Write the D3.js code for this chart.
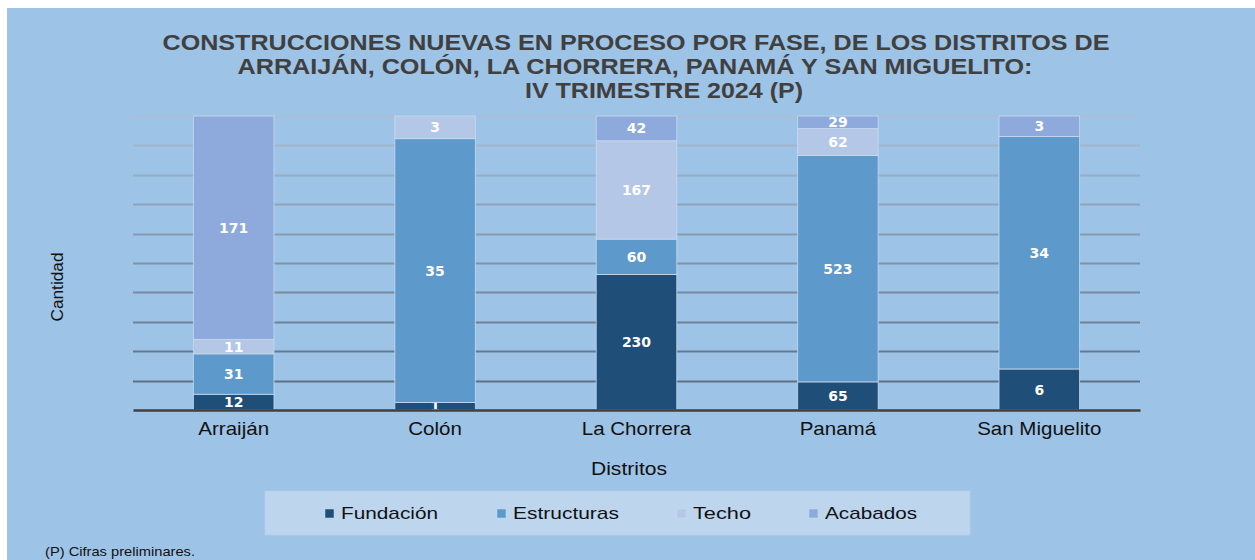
<!DOCTYPE html>
<html>
<head>
<meta charset="utf-8">
<script src="https://cdn.jsdelivr.net/npm/d3@7"></script>
<style>
  html, body { margin: 0; padding: 0; background: #ffffff; }
  svg { display: block; }
</style>
</head>
<body>
<div class="chart"></div>
<script>
// districts and phases
const districts = ["Arraiján", "Colón", "La Chorrera", "Panamá", "San Miguelito"];
const phases = ["Fundación", "Estructuras", "Techo", "Acabados"];

// values per phase, one per district (0 = no segment)
const fundacion = [12, 1, 230, 65, 6];
const estructuras = [31, 35, 60, 523, 34];
const techo = [11, 3, 167, 62, 0];
const acabados = [171, 0, 42, 29, 3];

const titleLines = [
  "CONSTRUCCIONES NUEVAS EN PROCESO POR FASE, DE LOS DISTRITOS DE",
  "ARRAIJÁN, COLÓN, LA CHORRERA, PANAMÁ Y SAN MIGUELITO:",
  "IV TRIMESTRE 2024 (P)",
];

const data = districts.map((d, i) => ({
  district: d,
  "Fundación": fundacion[i],
  "Estructuras": estructuras[i],
  "Techo": techo[i],
  "Acabados": acabados[i],
}));

const W = 1255, H = 560;
const margin = { top: 116, right: 115, bottom: 150, left: 133 },
  width = W - margin.left - margin.right,
  height = H - margin.top - margin.bottom;

const svg = d3.select(".chart").append("svg").attr("width", W).attr("height", H);

// chart area background (white edge on top/left)
svg.append("rect").attr("x", 7).attr("y", 8).attr("width", W - 7).attr("height", H - 8)
  .attr("fill", "#9dc3e6");

// title
const title = svg.append("g").attr("font-family", "'Liberation Sans', Arial, sans-serif")
  .attr("font-weight", "bold").attr("font-size", 22).attr("fill", "#404040");
const titleSpec = [[636, 50, 947], [635, 74, 795], [664, 98, 278]];
titleLines.forEach((t, i) => {
  title.append("text")
    .attr("x", titleSpec[i][0]).attr("y", titleSpec[i][1])
    .attr("text-anchor", "middle")
    .attr("textLength", titleSpec[i][2])
    .attr("lengthAdjust", "spacingAndGlyphs")
    .text(t);
});

const g = svg.append("g").attr("transform", `translate(${margin.left},${margin.top})`);

const x = d3.scaleBand().domain(districts).range([0, width]).paddingInner(0.6).paddingOuter(0.3);
const y = d3.scaleLinear().domain([0, 1]).range([height, 0]);

// gridlines, darker towards the bottom
const gridColor = d3.interpolateRgb("#a9bed4", "#55677b");
g.selectAll(".grid")
  .data(y.ticks(10).filter((t) => t > 0))
  .join("line")
  .attr("x1", 0).attr("x2", width)
  .attr("y1", (d) => Math.round(y(d)) + 0.5).attr("y2", (d) => Math.round(y(d)) + 0.5)
  .attr("stroke", (d) => gridColor(1 - d))
  .attr("stroke-width", 2);

const color = d3.scaleOrdinal().domain(phases).range(["#1f4e79", "#5e99cb", "#b4c7e7", "#8eaadc"]);

const stacked = d3.stack().keys(phases).offset(d3.stackOffsetExpand)(data);

const layer = g.selectAll(".layer").data(stacked).join("g").attr("class", "layer");

layer.selectAll("rect")
  .data((s) => s.map((d) => ({ key: s.key, d })).filter((e) => e.d.data[e.key] > 0))
  .join("rect")
  .attr("x", (e) => x(e.d.data.district))
  .attr("width", x.bandwidth())
  .attr("y", (e) => y(e.d[1]))
  .attr("height", (e) => y(e.d[0]) - y(e.d[1]))
  .attr("fill", (e) => color(e.key))
  .attr("stroke", "#c8dbef")
  .attr("stroke-opacity", 0.8)
  .attr("stroke-width", 1);

// value labels
layer.selectAll("text")
  .data((s) => s.map((d) => ({ key: s.key, d })).filter((e) => e.d.data[e.key] > 0))
  .join("text")
  .attr("x", (e) => x(e.d.data.district) + x.bandwidth() / 2)
  .attr("y", (e) => (y(e.d[0]) + y(e.d[1])) / 2)
  .attr("dy", "0.36em")
  .attr("text-anchor", "middle")
  .attr("font-family", "'DejaVu Sans', Verdana, sans-serif")
  .attr("font-weight", "bold")
  .attr("font-size", 14)
  .attr("fill", "#ffffff")
  .text((e) => e.d.data[e.key]);

// x axis
const xAxis = g.append("g").attr("transform", `translate(0,${height})`)
  .call(d3.axisBottom(x).tickSize(0).tickPadding(12));
xAxis.select(".domain").attr("stroke", "#404040").attr("stroke-width", 2.5);
xAxis.selectAll("text")
  .attr("font-family", "'Liberation Sans', Arial, sans-serif")
  .attr("font-size", 19).attr("fill", "#111111")
  .each(function () {
    const len = this.getComputedTextLength();
    d3.select(this).attr("textLength", len * 1.08).attr("lengthAdjust", "spacingAndGlyphs");
  });

// axis titles
svg.append("text")
  .attr("x", 629).attr("y", 475)
  .attr("text-anchor", "middle")
  .attr("font-family", "'Liberation Sans', Arial, sans-serif")
  .attr("font-size", 19).attr("fill", "#111111")
  .attr("textLength", 76).attr("lengthAdjust", "spacingAndGlyphs")
  .text("Distritos");

svg.append("text")
  .attr("transform", "translate(63,287) rotate(-90)")
  .attr("text-anchor", "middle")
  .attr("font-family", "'Liberation Sans', Arial, sans-serif")
  .attr("font-size", 17).attr("fill", "#111111")
  .attr("textLength", 69).attr("lengthAdjust", "spacingAndGlyphs")
  .text("Cantidad");

// legend
svg.append("rect").attr("x", 265).attr("y", 491).attr("width", 705).attr("height", 44)
  .attr("fill", "#bdd6ee").attr("stroke", "#b2cfeb");

const legendX = [325, 497, 677, 809];
const legendLen = [97, 106, 58, 92];
const legend = svg.selectAll(".legend").data(phases).join("g")
  .attr("class", "legend")
  .attr("transform", (d, i) => `translate(${legendX[i]},509)`);
legend.append("rect").attr("width", 9).attr("height", 9)
  .attr("fill", color).attr("stroke", "#c8dbef").attr("stroke-width", 0.5);
legend.append("text")
  .attr("x", 16).attr("y", 10)
  .attr("font-family", "'Liberation Sans', Arial, sans-serif")
  .attr("font-size", 17).attr("fill", "#111111")
  .attr("textLength", (d, i) => legendLen[i]).attr("lengthAdjust", "spacingAndGlyphs")
  .text((d) => d);

// footnote
svg.append("text")
  .attr("x", 45).attr("y", 556)
  .attr("font-family", "'Liberation Sans', Arial, sans-serif")
  .attr("font-size", 13.5).attr("fill", "#111111")
  .attr("textLength", 150).attr("lengthAdjust", "spacingAndGlyphs")
  .text("(P) Cifras preliminares.");
</script>
</body>
</html>
